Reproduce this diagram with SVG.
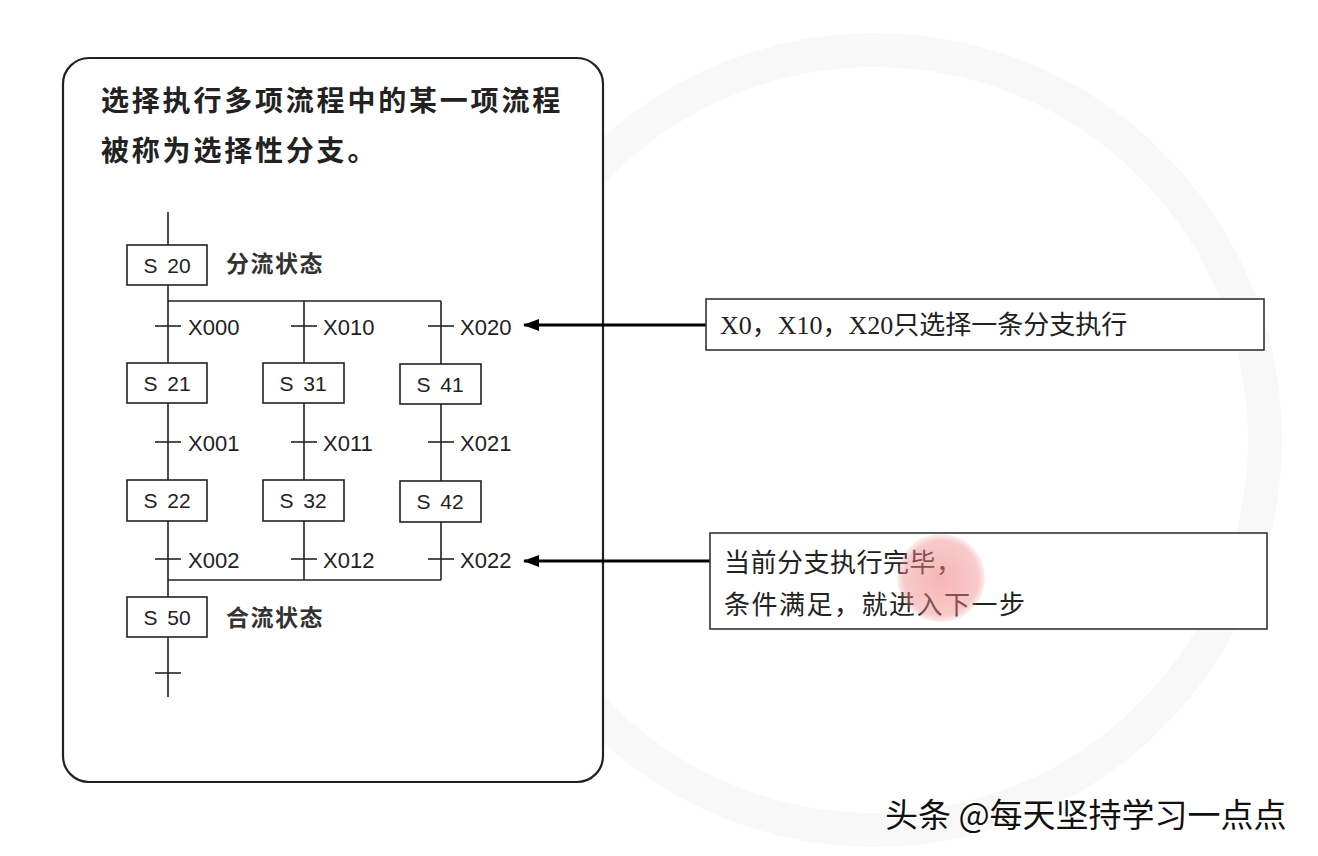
<svg xmlns="http://www.w3.org/2000/svg" width="1318" height="856" viewBox="0 0 1318 856">
<defs>
<marker id="ah" markerWidth="16" markerHeight="12" refX="15" refY="6" orient="auto" markerUnits="userSpaceOnUse" viewBox="0 0 16 12">
<path d="M0,0 L16,6 L0,12 Z" fill="#000"/>
</marker>
<radialGradient id="cur" cx="0.5" cy="0.5" r="0.5">
<stop offset="0" stop-color="#f07878" stop-opacity="0.55"/>
<stop offset="0.85" stop-color="#f08888" stop-opacity="0.45"/>
<stop offset="1" stop-color="#f09090" stop-opacity="0.15"/>
</radialGradient>
<style>
.wire{stroke:#222;stroke-width:1.6;fill:none}
.box{fill:#fff;stroke:#222;stroke-width:1.6}
.st{font-family:"Liberation Sans","Noto Sans CJK SC",sans-serif;font-size:21px;fill:#222;text-anchor:middle;dominant-baseline:central;word-spacing:4px}
.lbl{font-family:"Liberation Sans","Noto Sans CJK SC",sans-serif;font-size:22px;fill:#222;dominant-baseline:central}
.cn{font-family:"Noto Sans CJK SC",sans-serif;font-size:23px;font-weight:bold;fill:#333;dominant-baseline:central;letter-spacing:1.5px}
.title{font-family:"Noto Sans CJK SC",sans-serif;font-size:28px;font-weight:bold;fill:#222;letter-spacing:2.8px}
.note{font-family:"Liberation Serif","Noto Sans CJK SC",serif;font-size:26px;fill:#222}
.nbox{fill:#fff;stroke:#333;stroke-width:1.6}
.arr{stroke:#000;stroke-width:3;fill:none}
</style>
</defs>
<rect width="1318" height="856" fill="#fff"/>
<!-- faint watermark -->
<g id="watermark" fill="none" stroke="#f8f8f8">
<circle cx="875" cy="440" r="390" stroke-width="34"/>
</g>
<!-- outer panel -->
<g id="panel">
<rect x="63" y="58" width="540" height="724" rx="26" ry="26" fill="#fff" stroke="#222" stroke-width="2.2"/>
<text class="title" x="101" y="111">选择执行多项流程中的某一项流程</text>
<text class="title" x="101" y="161">被称为选择性分支。</text>
</g>
<!-- connectors -->
<g id="connectors">
<line class="wire" x1="168" y1="212" x2="168" y2="245"/>
<line class="wire" x1="168" y1="285" x2="168" y2="363"/>
<line class="wire" x1="168" y1="301" x2="441" y2="301"/>
<line class="wire" x1="304" y1="301" x2="304" y2="363"/>
<line class="wire" x1="441" y1="301" x2="441" y2="364"/>
<line class="wire" x1="155" y1="326" x2="181" y2="326"/>
<line class="wire" x1="291" y1="326" x2="317" y2="326"/>
<line class="wire" x1="428" y1="326" x2="454" y2="326"/>
<line class="wire" x1="168" y1="403" x2="168" y2="480"/>
<line class="wire" x1="304" y1="403" x2="304" y2="480"/>
<line class="wire" x1="441" y1="404" x2="441" y2="481"/>
<line class="wire" x1="155" y1="442" x2="181" y2="442"/>
<line class="wire" x1="291" y1="442" x2="317" y2="442"/>
<line class="wire" x1="428" y1="442" x2="454" y2="442"/>
<line class="wire" x1="168" y1="521" x2="168" y2="597"/>
<line class="wire" x1="304" y1="521" x2="304" y2="580"/>
<line class="wire" x1="441" y1="522" x2="441" y2="580"/>
<line class="wire" x1="155" y1="559" x2="181" y2="559"/>
<line class="wire" x1="291" y1="559" x2="317" y2="559"/>
<line class="wire" x1="428" y1="559" x2="454" y2="559"/>
<line class="wire" x1="168" y1="580" x2="441" y2="580"/>
<line class="wire" x1="168" y1="637" x2="168" y2="697"/>
<line class="wire" x1="155" y1="673" x2="181" y2="673"/>
<line class="arr" x1="707" y1="325" x2="524" y2="325" marker-end="url(#ah)"/>
<line class="arr" x1="710" y1="561" x2="524" y2="561" marker-end="url(#ah)"/>
</g>
<!-- transition labels -->
<g id="transitions">
<text class="lbl" x="188" y="327">X000</text>
<text class="lbl" x="323" y="327">X010</text>
<text class="lbl" x="460" y="327">X020</text>
<text class="lbl" x="188" y="443">X001</text>
<text class="lbl" x="323" y="443">X011</text>
<text class="lbl" x="460" y="443">X021</text>
<text class="lbl" x="188" y="560">X002</text>
<text class="lbl" x="323" y="560">X012</text>
<text class="lbl" x="460" y="560">X022</text>
</g>
<g id="S20"><rect class="box" x="127" y="245" width="80" height="40"/><text class="st" x="167" y="265">S 20</text><text class="cn" x="226" y="262">分流状态</text></g>
<g id="S21"><rect class="box" x="127" y="363" width="80" height="40"/><text class="st" x="167" y="383">S 21</text></g>
<g id="S31"><rect class="box" x="263" y="363" width="81" height="40"/><text class="st" x="303" y="383">S 31</text></g>
<g id="S41"><rect class="box" x="400" y="364" width="81" height="40"/><text class="st" x="440" y="384">S 41</text></g>
<g id="S22"><rect class="box" x="127" y="480" width="80" height="41"/><text class="st" x="167" y="500">S 22</text></g>
<g id="S32"><rect class="box" x="263" y="480" width="81" height="41"/><text class="st" x="303" y="500">S 32</text></g>
<g id="S42"><rect class="box" x="400" y="481" width="81" height="41"/><text class="st" x="440" y="501">S 42</text></g>
<g id="S50"><rect class="box" x="127" y="597" width="80" height="40"/><text class="st" x="167" y="617">S 50</text><text class="cn" x="226" y="616">合流状态</text></g>
<g id="note1"><rect class="nbox" x="706" y="299" width="558" height="51"/><text class="note" x="720" y="334">X0，X10，X20只选择一条分支执行</text></g>
<g id="note2"><rect class="nbox" x="710" y="533" width="557" height="96"/><text class="note" x="724" y="572" letter-spacing="0.5">当前分支执行完毕，</text><text class="note" x="724" y="614" letter-spacing="1.5">条件满足，就进入下一步</text></g>
<g id="cursor"><circle cx="941" cy="578" r="44" fill="url(#cur)"/></g>
<g id="footer"><text x="885" y="827" font-family="Noto Sans CJK SC,sans-serif" font-size="33" fill="#111" stroke="#fff" stroke-width="3" paint-order="stroke">头条 @每天坚持学习一点点</text></g>
</svg>
